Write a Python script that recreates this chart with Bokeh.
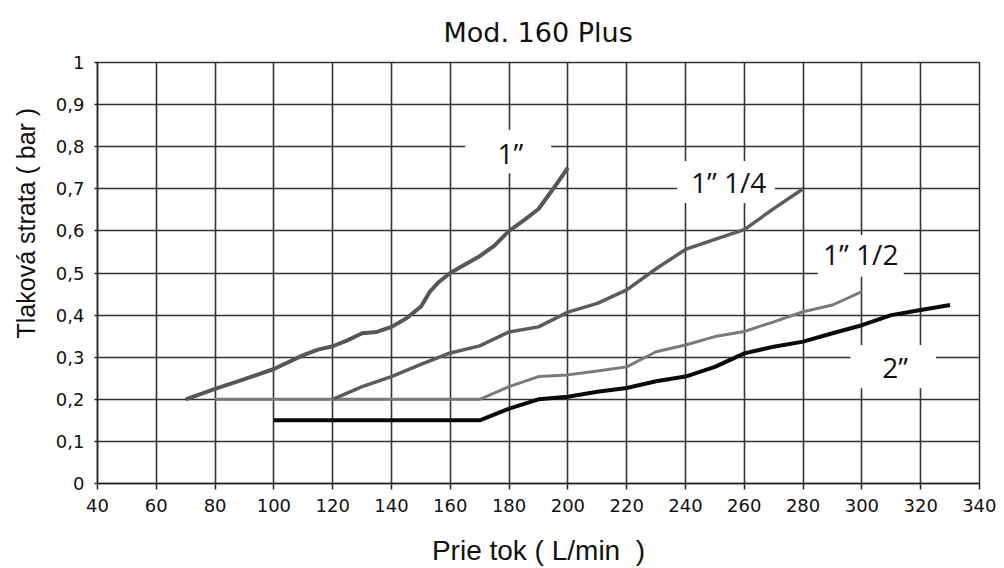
from bokeh.plotting import figure
from bokeh.models import (FixedTicker, CustomJSTickFormatter, Label, BoxAnnotation, Range1d, Title)
from bokeh.embed import file_html
from bokeh.resources import INLINE

# ---- data ----
x_1in = [70, 80, 90, 100, 110, 115, 120, 125, 130, 135, 140, 145, 150, 153, 156, 160,
         165, 170, 175, 180, 185, 190, 195, 200]
y_1in = [0.20, 0.225, 0.248, 0.272, 0.305, 0.318, 0.326, 0.34, 0.357, 0.36, 0.372, 0.392,
         0.42, 0.455, 0.478, 0.50, 0.52, 0.54, 0.565, 0.60, 0.625, 0.652, 0.70, 0.75]

x_1in14 = [120, 130, 140, 150, 160, 170, 180, 190, 200, 210, 220, 230, 240, 250, 260, 270, 280]
y_1in14 = [0.20, 0.23, 0.254, 0.283, 0.31, 0.327, 0.36, 0.372, 0.407, 0.428, 0.46, 0.51,
           0.556, 0.58, 0.603, 0.653, 0.70]

x_1in12 = [80, 170, 180, 190, 200, 210, 220, 230, 240, 250, 260, 270, 280, 290, 300]
y_1in12 = [0.20, 0.20, 0.23, 0.254, 0.258, 0.267, 0.277, 0.313, 0.329, 0.349, 0.361, 0.384,
           0.408, 0.424, 0.456]

x_2in = [100, 170, 180, 190, 200, 210, 220, 230, 240, 250, 260, 270, 280, 290, 300, 310, 320, 330]
y_2in = [0.15, 0.15, 0.178, 0.20, 0.206, 0.218, 0.227, 0.243, 0.254, 0.277, 0.309, 0.325,
         0.337, 0.357, 0.376, 0.40, 0.412, 0.424]

series_names = ["1\u201d", "1\u201d 1/4", "1\u201d 1/2", "2\u201d"]
x_ticks = [40, 60, 80, 100, 120, 140, 160, 180, 200, 220, 240, 260, 280, 300, 320, 340]
y_ticks = [0, 0.1, 0.2, 0.3, 0.4, 0.5, 0.6, 0.7, 0.8, 0.9, 1]

title_text = "Mod. 160 Plus"
x_title = "Prie tok (\u00a0L/min\u00a0\u00a0)"
y_title = "Tlaková strata (\u00a0bar\u00a0)"

# ---- layout / style ----
GRID = "#333333"

p = figure(output_backend="svg", toolbar_location=None,
           frame_width=882, frame_height=421,
           min_border_left=97, min_border_right=17, min_border_top=61, min_border_bottom=78,
           x_range=Range1d(40, 340), y_range=Range1d(0, 1))
p.background_fill_color = "white"
p.border_fill_color = "white"
p.outline_line_color = GRID
p.outline_line_width = 1.5

p.title = Title(text=title_text, align="left", offset=346, standoff=29,
                text_font="DejaVu Sans", text_font_size="27px",
                text_font_style="normal", text_color="#111111")

p.xaxis.ticker = FixedTicker(ticks=x_ticks)
p.yaxis.ticker = FixedTicker(ticks=y_ticks)
p.yaxis.formatter = CustomJSTickFormatter(code="""
if (Math.abs(tick) < 1e-9) return "0";
if (Math.abs(tick - 1) < 1e-9) return "1";
return tick.toFixed(1).replace(".", ",");
""")

for ax in (p.xaxis, p.yaxis):
    ax.axis_line_color = "#222222"
    ax.axis_line_width = 1.5
    ax.major_tick_line_color = "#222222"
    ax.major_tick_line_width = 1.5
    ax.minor_tick_line_color = None
    ax.major_tick_in = 0
    ax.major_label_text_font = "DejaVu Sans"
    ax.major_label_text_font_size = "18px"
    ax.major_label_text_color = "#111111"
p.xaxis.major_tick_out = 6
p.xaxis.major_label_standoff = 9
p.yaxis.major_tick_out = 3
p.yaxis.major_label_standoff = 10

p.xaxis.axis_label = x_title
p.xaxis.axis_label_text_font = "Liberation Sans"
p.xaxis.axis_label_text_font_size = "28px"
p.xaxis.axis_label_text_font_style = "normal"
p.xaxis.axis_label_text_color = "#111111"
p.xaxis.axis_label_standoff = 20

p.add_layout(Title(text=y_title, align="left", offset=145, standoff=22,
                   vertical_align="top",
                   text_font="Liberation Sans", text_font_size="25px",
                   text_font_style="normal", text_color="#111111"), "left")

for g in (p.xgrid, p.ygrid):
    g.grid_line_color = GRID
    g.grid_line_width = 1.6

# ---- curves ----
p.line(x_1in12, y_1in12, line_color="#7a7a7a", line_width=3)
p.line(x_1in14, y_1in14, line_color="#5c5c5c", line_width=3.5)
p.line(x_1in, y_1in, line_color="#575757", line_width=4)
p.line(x_2in, y_2in, line_color="#0a0a0a", line_width=4)

# ---- white gaps behind curve labels ----
gap_boxes = [(165.1, 194.3, 0.737, 0.840),
             (237.2, 270.4, 0.666, 0.766),
             (285.0, 314.2, 0.491, 0.590),
             (296.1, 325.2, 0.226, 0.329)]
label_pos = [(180.4, 0.786), (254.7, 0.715), (299.6, 0.545), (311.3, 0.276)]

for (l, r, b, t) in gap_boxes:
    p.add_layout(BoxAnnotation(left=l, right=r, bottom=b, top=t,
                               fill_color="white", fill_alpha=1.0,
                               line_color=None))
for name, (lx, ly) in zip(series_names, label_pos):
    p.add_layout(Label(x=lx, y=ly, text=name, text_align="center", text_baseline="middle",
                       text_font="Open Sans", text_font_size="28px", text_color="#111111"))

open("out.html", "w").write(file_html(p, INLINE))
